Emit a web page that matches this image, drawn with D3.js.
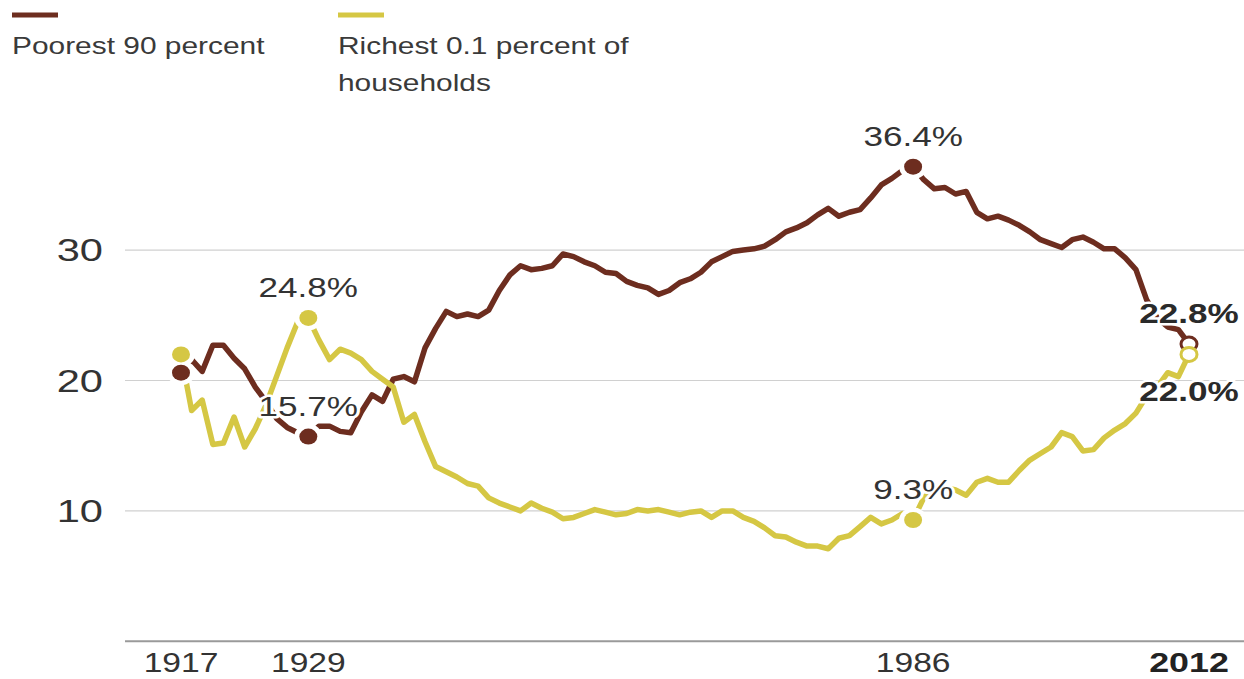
<!DOCTYPE html>
<html>
<head>
<meta charset="utf-8">
<script src="https://cdn.jsdelivr.net/npm/d3@7"></script>
<style>
  html, body { margin: 0; padding: 0; background: #fff; }
  svg { display: block; }
</style>
</head>
<body>
<svg id="chart" width="1244" height="679"></svg>
<script>
// Share of household wealth, 1917–2012 (percent)
const years = d3.range(1917, 2013);

const poorest90 = [
  20.6, 21.6, 20.7, 22.7, 22.7, 21.7, 20.9, 19.5, 18.4, 17.1,
  16.4, 16.0, 15.7, 16.5, 16.5, 16.1, 16.0, 17.6, 18.9, 18.4,
  20.1, 20.3, 19.9, 22.5, 24.0, 25.3, 24.9, 25.1, 24.9, 25.4,
  26.9, 28.1, 28.8, 28.5, 28.6, 28.8, 29.7, 29.5, 29.1, 28.8,
  28.3, 28.2, 27.6, 27.3, 27.1, 26.6, 26.9, 27.5, 27.8, 28.3,
  29.1, 29.5, 29.9, 30.0, 30.1, 30.3, 30.8, 31.4, 31.7, 32.1,
  32.7, 33.2, 32.6, 32.9, 33.1, 34.0, 35.0, 35.5, 36.1, 36.4,
  35.4, 34.7, 34.8, 34.3, 34.5, 32.9, 32.4, 32.6, 32.3, 31.9,
  31.4, 30.8, 30.5, 30.2, 30.8, 31.0, 30.6, 30.1, 30.1, 29.4,
  28.5, 26.2, 24.8, 24.1, 23.9, 22.8
];

const richest01 = [
  22.0, 17.7, 18.5, 15.1, 15.2, 17.2, 14.9, 16.3, 18.1, 20.3,
  22.5, 24.5, 24.8, 23.1, 21.6, 22.4, 22.1, 21.6, 20.7, 20.1,
  19.5, 16.8, 17.4, 15.3, 13.4, 13.0, 12.6, 12.1, 11.9, 11.0,
  10.6, 10.3, 10.0, 10.6, 10.2, 9.9, 9.4, 9.5, 9.8, 10.1,
  9.9, 9.7, 9.8, 10.1, 10.0, 10.1, 9.9, 9.7, 9.9, 10.0,
  9.5, 10.0, 10.0, 9.5, 9.2, 8.7, 8.1, 8.0, 7.6, 7.3,
  7.3, 7.1, 7.9, 8.1, 8.8, 9.5, 9.0, 9.3, 9.8, 9.3,
  11.0, 11.8, 11.8, 11.6, 11.2, 12.2, 12.5, 12.2, 12.2, 13.1,
  13.9, 14.4, 14.9, 16.0, 15.7, 14.6, 14.7, 15.6, 16.2, 16.7,
  17.5, 18.8, 19.5, 20.6, 20.3, 22.0
];

const seriesLabels = [["Poorest 90 percent"], ["Richest 0.1 percent of", "households"]];
const seriesColors = ["#6d2d1f", "#d5c744"];
const xTickYears = [1917, 1929, 1986, 2012];
const yTickValues = [10, 20, 30];
const markedYears = [1917, 1929, 1986, 2012];
// which marked years get a value label, and where it sits
const labelPlacement = [
  { 1929: "above", 1986: "above", 2012: "above" },
  { 1929: "above", 1986: "above", 2012: "below" }
];

const W = 1244, H = 679;
const STRETCH = 1.3; // the typeface is set wide
const textColor = "#333333";

const svg = d3.select("#chart");

const x = d3.scaleLinear().domain([1917, 2012]).range([181, 1189]);
const y = d3.scaleLinear().domain([0, 30]).range([641.3, 250.1]);

// horizontally stretched text helper
function stext(parent, tx, ty, str, opts) {
  const sx = opts.stretch || STRETCH;
  const g = parent.append("g")
    .attr("transform", `translate(${tx},${ty}) scale(${sx},1)`);
  const t = g.append("text")
    .attr("x", 0).attr("y", 0)
    .attr("text-anchor", opts.anchor || "start")
    .attr("font-family", opts.family || "'Liberation Sans', Arial, sans-serif")
    .attr("font-size", opts.size)
    .attr("font-weight", opts.weight || "normal")
    .attr("fill", opts.fill || textColor)
    .text(str);
  if (opts.halo) {
    t.attr("stroke", "#fff").attr("stroke-width", opts.halo)
     .attr("stroke-linejoin", "round").attr("paint-order", "stroke");
  }
  return t;
}

// gridlines
const grid = svg.append("g");
grid.selectAll("line").data(yTickValues).join("line")
  .attr("x1", 125).attr("x2", W)
  .attr("y1", d => y(d)).attr("y2", d => y(d))
  .attr("stroke", "#d0d0d0").attr("stroke-width", 1.2);

// baseline axis
svg.append("line")
  .attr("x1", 125).attr("x2", W)
  .attr("y1", y(0)).attr("y2", y(0))
  .attr("stroke", "#9a9a9a").attr("stroke-width", 2);

// y tick labels
yTickValues.forEach(v => {
  stext(svg, 103, y(v) + 11, String(v), { anchor: "end", size: 32 });
});

// x tick labels
xTickYears.forEach((yr, i) => {
  const last = i === xTickYears.length - 1;
  stext(svg, x(yr), 672, String(yr), {
    anchor: "middle", size: 28, stretch: last ? 1.28 : 1.2,
    weight: last ? "bold" : "normal",
    fill: last ? "#222" : textColor
  });
});

// legend
const legendX = [12, 338];
seriesLabels.forEach((lines, i) => {
  svg.append("line")
    .attr("x1", legendX[i]).attr("x2", legendX[i] + 46)
    .attr("y1", 15).attr("y2", 15)
    .attr("stroke", seriesColors[i]).attr("stroke-width", 5);
  lines.forEach((ln, j) => {
    stext(svg, legendX[i], 54 + j * 37, ln, { size: 23, fill: "#3a3a3a" });
  });
});

// series lines
const allSeries = [poorest90, richest01];
const lineGen = d3.line()
  .x((d, i) => x(years[i]))
  .y(d => y(d));

const linesG = svg.append("g");
allSeries.forEach((vals, i) => {
  linesG.append("path")
    .datum(vals)
    .attr("d", lineGen)
    .attr("fill", "none")
    .attr("stroke", seriesColors[i])
    .attr("stroke-width", 5.5)
    .attr("stroke-linejoin", "round")
    .attr("stroke-linecap", "butt");
});

// markers
const lastYear = years[years.length - 1];
const halos = svg.append("g");
const dots = svg.append("g");
allSeries.forEach((vals, i) => {
  markedYears.forEach(yr => {
    const v = vals[years.indexOf(yr)];
    const cx = x(yr), cy = y(v);
    if (yr !== lastYear) {
      halos.append("ellipse")
        .attr("cx", cx).attr("cy", cy).attr("rx", 14).attr("ry", 12.5)
        .attr("fill", "#fff");
      dots.append("ellipse")
        .attr("cx", cx).attr("cy", cy).attr("rx", 9).attr("ry", 8)
        .attr("fill", seriesColors[i]);
    }
  });
});
// open end markers, poorest first so the richest ring sits on top
allSeries.forEach((vals, i) => {
  const v = vals[vals.length - 1];
  dots.append("ellipse")
    .attr("cx", x(lastYear)).attr("cy", y(v)).attr("rx", 8).attr("ry", 7)
    .attr("fill", "#fff")
    .attr("stroke", seriesColors[i]).attr("stroke-width", 3);
});

// value labels
const labelsG = svg.append("g");
allSeries.forEach((vals, i) => {
  Object.entries(labelPlacement[i]).forEach(([yrStr, pos]) => {
    const yr = +yrStr;
    const v = vals[years.indexOf(yr)];
    const isLast = yr === lastYear;
    const ty = pos === "above" ? y(v) - 21 : y(v) + 47;
    stext(labelsG, x(yr), ty, v.toFixed(1) + "%", {
      anchor: "middle", size: 27,
      weight: isLast ? "bold" : "normal",
      fill: isLast ? "#2a2a2a" : textColor,
      halo: 5
    });
  });
});
</script>
</body>
</html>
